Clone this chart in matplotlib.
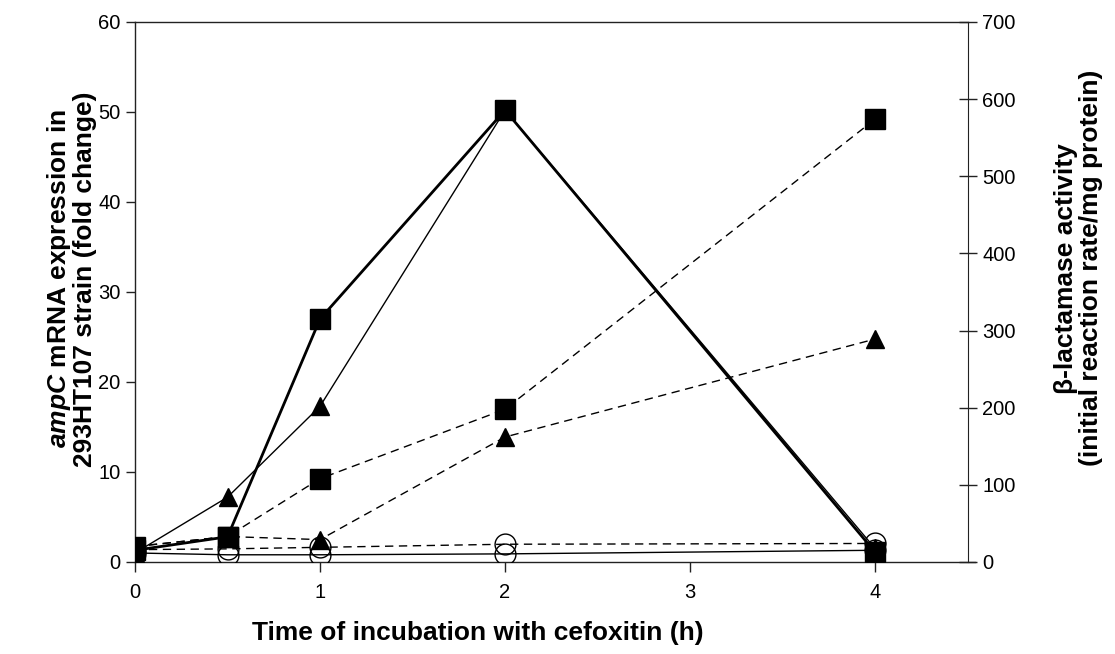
import matplotlib
matplotlib.use("Agg")
import matplotlib.pyplot as plt

plt.rcParams['font.family'] = ['Liberation Sans', 'DejaVu Sans']
plt.rcParams['mathtext.fontset'] = 'custom'
plt.rcParams['mathtext.it'] = 'Liberation Sans:italic:bold'
plt.rcParams['mathtext.rm'] = 'Liberation Sans:bold'

hours = [0, 0.5, 1, 2, 4]

# ampC mRNA expression (left axis, fold change)
mrna_squares = [1.3, 2.8, 27.0, 50.2, 1.1]
mrna_triangles = [1.0, 7.2, 17.3, 50.2, 1.5]
mrna_circles = [1.0, 0.8, 0.8, 0.9, 1.3]

# beta-lactamase activity (right axis)
act_squares = [20, 33, 108, 198, 574]
act_triangles = [20, 33, 29, 162, 289]
act_circles = [16, 17, 19, 23, 24]

fig = plt.figure(figsize=(11.15, 6.54), dpi=100)
ax = fig.add_axes([0.1211, 0.1407, 0.7533, 0.8257])
ax2 = ax.twinx()

ax.plot(hours, mrna_squares, color="black", lw=2, marker="s", ms=14, zorder=3)
ax.plot(hours, mrna_triangles, color="black", lw=1, marker="^", ms=13, zorder=3)
ax.plot(hours, mrna_circles, color="black", lw=1, marker="o", ms=15,
        mfc="none", mew=1, zorder=3)

dash = (0, (6, 4))
ax2.plot(hours, act_squares, color="black", lw=1, ls=dash, marker="s", ms=14)
ax2.plot(hours, act_triangles, color="black", lw=1, ls=dash, marker="^", ms=13)
ax2.plot(hours, act_circles, color="black", lw=1, ls=dash, marker="o", ms=15,
         mfc="none", mew=1)

ax.set_xlim(0, 4.54)
ax.set_ylim(0, 60)
ax2.set_ylim(0, 700)
ax.set_xticks([0, 1, 2, 3, 4])
ax.set_yticks(range(0, 61, 10))
ax2.set_yticks(range(0, 701, 100))

spine_col = "#222222"
for s in ["left", "bottom", "top"]:
    ax.spines[s].set_color(spine_col)
    ax.spines[s].set_linewidth(1)
ax.spines["right"].set_visible(False)
ax.spines["top"].set_bounds(0, 4.5)
for s in ["left", "bottom", "top"]:
    ax2.spines[s].set_visible(False)
ax2.spines["right"].set_position(("data", 4.5))
ax2.spines["right"].set_color(spine_col)

ax.tick_params(axis="y", direction="out", length=6.5, width=1, color=spine_col,
               labelsize=14.5, pad=4)
ax.tick_params(axis="x", direction="out", length=7, width=1, color=spine_col,
               labelsize=14.5, pad=8)
ax2.tick_params(axis="y", direction="inout", length=13, width=1, color=spine_col,
                labelsize=14.5, pad=4)

lab = dict(fontsize=19, fontweight="bold", linespacing=1.05,
           ha="center", va="center")
ax.set_xlabel("Time of incubation with cefoxitin (h)", **lab)
ax.xaxis.set_label_coords(0.408, -0.1315)
ax.set_ylabel("$ampC$ mRNA expression in\n293HT107 strain (fold change)", **lab)
ax.yaxis.set_label_coords(-0.0762, 0.524)
ax2.set_ylabel("β-lactamase activity\n(initial reaction rate/mg protein)", **lab)
ax2.yaxis.set_label_coords(1.1238, 0.544)

fig.savefig("out.png", dpi=100)
